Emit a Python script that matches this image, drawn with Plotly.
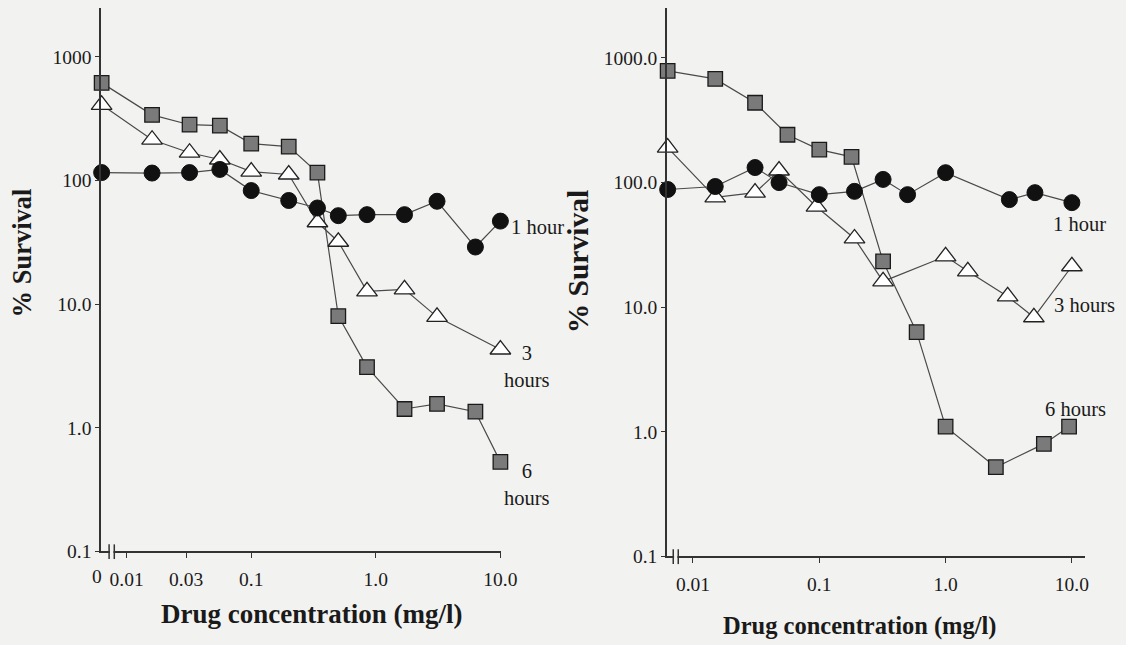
import plotly.graph_objects as go

# ---------------- data (concentration in mg/l, 0 = drug-free control) ----------------
LEFT_1H_CONC = [0, 0.016, 0.032, 0.056, 0.1, 0.2, 0.34, 0.5, 0.85, 1.7, 3.1, 6.3, 10]
LEFT_1H_SURV = [116, 115, 116, 123, 83, 69, 60, 52, 53, 53, 68, 29, 47]

LEFT_3H_CONC = [0, 0.016, 0.032, 0.056, 0.1, 0.2, 0.34, 0.5, 0.85, 1.7, 3.1, 10]
LEFT_3H_SURV = [410, 214, 168, 148, 118, 112, 46, 32, 12.7, 13.2, 7.9, 4.3]

LEFT_6H_CONC = [0, 0.016, 0.032, 0.056, 0.1, 0.2, 0.34, 0.5, 0.85, 1.7, 3.1, 6.3, 10]
LEFT_6H_SURV = [617, 340, 283, 278, 199, 188, 116, 8.0, 3.1, 1.42, 1.56, 1.35, 0.53]

RIGHT_1H_CONC = [0, 0.015, 0.031, 0.048, 0.1, 0.19, 0.32, 0.5, 1.0, 3.2, 5.1, 10]
RIGHT_1H_SURV = [88, 93, 132, 100, 80, 85, 106, 80, 120, 73, 83, 69]

RIGHT_3H_CONC = [0, 0.015, 0.031, 0.048, 0.095, 0.19, 0.32, 1.0, 1.5, 3.1, 5.0, 10]
RIGHT_3H_SURV = [191, 76, 83, 125, 64, 35.6, 16.1, 25.6, 19.4, 12.2, 8.3, 21.3]

RIGHT_6H_CONC = [0, 0.015, 0.031, 0.056, 0.1, 0.18, 0.32, 0.59, 1.0, 2.5, 6.0, 9.5]
RIGHT_6H_SURV = [787, 679, 437, 242, 184, 161, 23.3, 6.3, 1.1, 0.52, 0.80, 1.1]

LEFT_XTICK_VALS = [0.01, 0.03, 0.1, 1, 10]
LEFT_XTICK_TEXT = ["0.01", "0.03", "0.1", "1.0", "10.0"]
RIGHT_XTICK_VALS = [0.01, 0.1, 1, 10]
RIGHT_XTICK_TEXT = ["0.01", "0.1", "1.0", "10.0"]
YTICK_VALS = [0.1, 1, 10, 100, 1000]
LEFT_YTICK_TEXT = ["0.1", "1.0", "10.0", "100", "1000"]
RIGHT_YTICK_TEXT = ["0.1", "1.0", "10.0", "100.0", "1000.0"]

# position used on the log axis for the zero-dose control (just past the broken axis origin)
ZERO_POS = 0.0063


def xpos(vals):
    return [ZERO_POS if v == 0 else v for v in vals]


# Figure size; the page keeps the browser's default 8px body margin and the
# captured page (figure + margins) is fitted to the picture width, so
# target picture pixels are converted to figure fractions here.
W, H, PAD = 1126, 645, 8
S = (W + 2 * PAD) / W


def fx(px):
    return min(1.0, max(0.0, (px * S - PAD) / W))


def fy(py):
    return min(1.0, max(0.0, 1 - (py * S - PAD) / H))


BG = "#f2f2f0"
INK = "#1a1a1a"
LINE = "#4a4a4a"
SERIF = "Liberation Serif"

circle = dict(symbol="circle", size=16, color="#111111", line=dict(color="#111111", width=1))
triangle = dict(symbol="triangle-up", size=18, color="#ffffff", line=dict(color="#222222", width=1.3))
square = dict(symbol="square", size=14.5, color="#7a7a7a", line=dict(color="#1a1a1a", width=1.3))

fig = go.Figure()

series = [
    (LEFT_6H_CONC, LEFT_6H_SURV, square, "x", "y"),
    (LEFT_3H_CONC, LEFT_3H_SURV, triangle, "x", "y"),
    (LEFT_1H_CONC, LEFT_1H_SURV, circle, "x", "y"),
    (RIGHT_6H_CONC, RIGHT_6H_SURV, square, "x2", "y2"),
    (RIGHT_3H_CONC, RIGHT_3H_SURV, triangle, "x2", "y2"),
    (RIGHT_1H_CONC, RIGHT_1H_SURV, circle, "x2", "y2"),
]
for cx, cy, mk, xa, ya in series:
    fig.add_trace(go.Scatter(
        x=xpos(cx), y=cy, mode="lines+markers", xaxis=xa, yaxis=ya,
        line=dict(color=LINE, width=1.2), marker=mk, cliponaxis=False,
        showlegend=False, hoverinfo="x+y",
    ))

tickfont = dict(family=SERIF, size=19.5, color=INK)
common_x = dict(type="log", showgrid=False, zeroline=False, showline=True,
                linecolor="#333333", linewidth=1.5, ticks="outside", ticklen=5,
                tickcolor="#333333", tickfont=tickfont, ticklabelstandoff=4)
common_y = dict(type="log", showgrid=False, zeroline=False, showline=True,
                linecolor="#333333", linewidth=1.5, ticks="outside", ticklen=4,
                tickcolor="#333333", tickfont=tickfont)

fig.update_layout(
    width=W, height=H, autosize=False,
    margin=dict(l=0, r=0, t=0, b=0),
    paper_bgcolor=BG, plot_bgcolor=BG,
    xaxis=dict(common_x, domain=[fx(101), fx(501)], range=[-2.205, 1.005], anchor="y",
               tickvals=LEFT_XTICK_VALS, ticktext=LEFT_XTICK_TEXT),
    yaxis=dict(common_y, domain=[fy(553), fy(8)], range=[-1, 3.395], anchor="x",
               tickvals=YTICK_VALS, ticktext=LEFT_YTICK_TEXT),
    xaxis2=dict(common_x, domain=[fx(667), fx(1085)], range=[-2.206, 1.103], anchor="y2",
                tickvals=RIGHT_XTICK_VALS, ticktext=RIGHT_XTICK_TEXT),
    yaxis2=dict(common_y, domain=[fy(558), fy(8)], range=[-1, 3.4], anchor="x2",
                tickvals=YTICK_VALS, ticktext=RIGHT_YTICK_TEXT),
)

# axis-break marks "||"
shapes = []
for xr, yr, a, b in [("x domain", "y domain", 0.020, 0.033), ("x2 domain", "y2 domain", 0.015, 0.027)]:
    shapes.append(dict(type="rect", xref=xr, yref=yr, x0=a + 0.002, x1=b - 0.002, y0=-0.004, y1=0.004,
                       fillcolor=BG, line=dict(width=0), layer="above"))
    for xv in (a, b):
        shapes.append(dict(type="line", xref=xr, yref=yr, x0=xv, x1=xv, y0=-0.014, y1=0.013,
                           line=dict(color="#333333", width=1.5), layer="above"))
fig.update_layout(shapes=shapes)

lab = dict(family=SERIF, size=20.5, color=INK)
ann = [
    # zero-dose tick label on the broken left axis
    dict(x=fx(97), y=fy(578), text="0", xanchor="center", align="center", font=tickfont),
    # series labels, left panel
    dict(x=fx(509), y=fy(228), text="1 hour", xanchor="left", align="left"),
    dict(x=fx(527), y=fy(367), text="3<br>hours", xanchor="center", align="center"),
    dict(x=fx(527), y=fy(486), text="6<br>hours", xanchor="center", align="center"),
    # series labels, right panel
    dict(x=fx(1051), y=fy(225), text="1 hour", xanchor="left", align="left"),
    dict(x=fx(1052), y=fy(306), text="3 hours", xanchor="left", align="left"),
    dict(x=fx(1043), y=fy(410), text="6 hours", xanchor="left", align="left"),
]
annotations = []
for a in ann:
    a.setdefault("font", lab)
    a.update(xref="paper", yref="paper", yanchor="middle", showarrow=False)
    annotations.append(a)

annotations += [
    dict(x=fx(22), y=fy(254), text="<b>% Survival</b>", textangle=-90,
         font=dict(family=SERIF, size=26.5, color=INK)),
    dict(x=fx(578), y=fy(262), text="<b>% Survival</b>", textangle=-90,
         font=dict(family=SERIF, size=29.5, color=INK)),
    dict(x=fx(311), y=fy(616), text="<b>Drug concentration (mg/l)</b>",
         font=dict(family=SERIF, size=27, color=INK)),
    dict(x=fx(860), y=fy(628), text="<b>Drug concentration (mg/l)</b>",
         font=dict(family=SERIF, size=24.5, color=INK)),
]
for a in annotations[-4:]:
    a.update(xref="paper", yref="paper", xanchor="center", yanchor="middle", showarrow=False)
fig.update_layout(annotations=annotations)

post = ("document.body.style.background='" + BG + "';"
        "document.documentElement.style.background='" + BG + "';")
fig.write_html("out.html", post_script=post, config={"displayModeBar": False})
